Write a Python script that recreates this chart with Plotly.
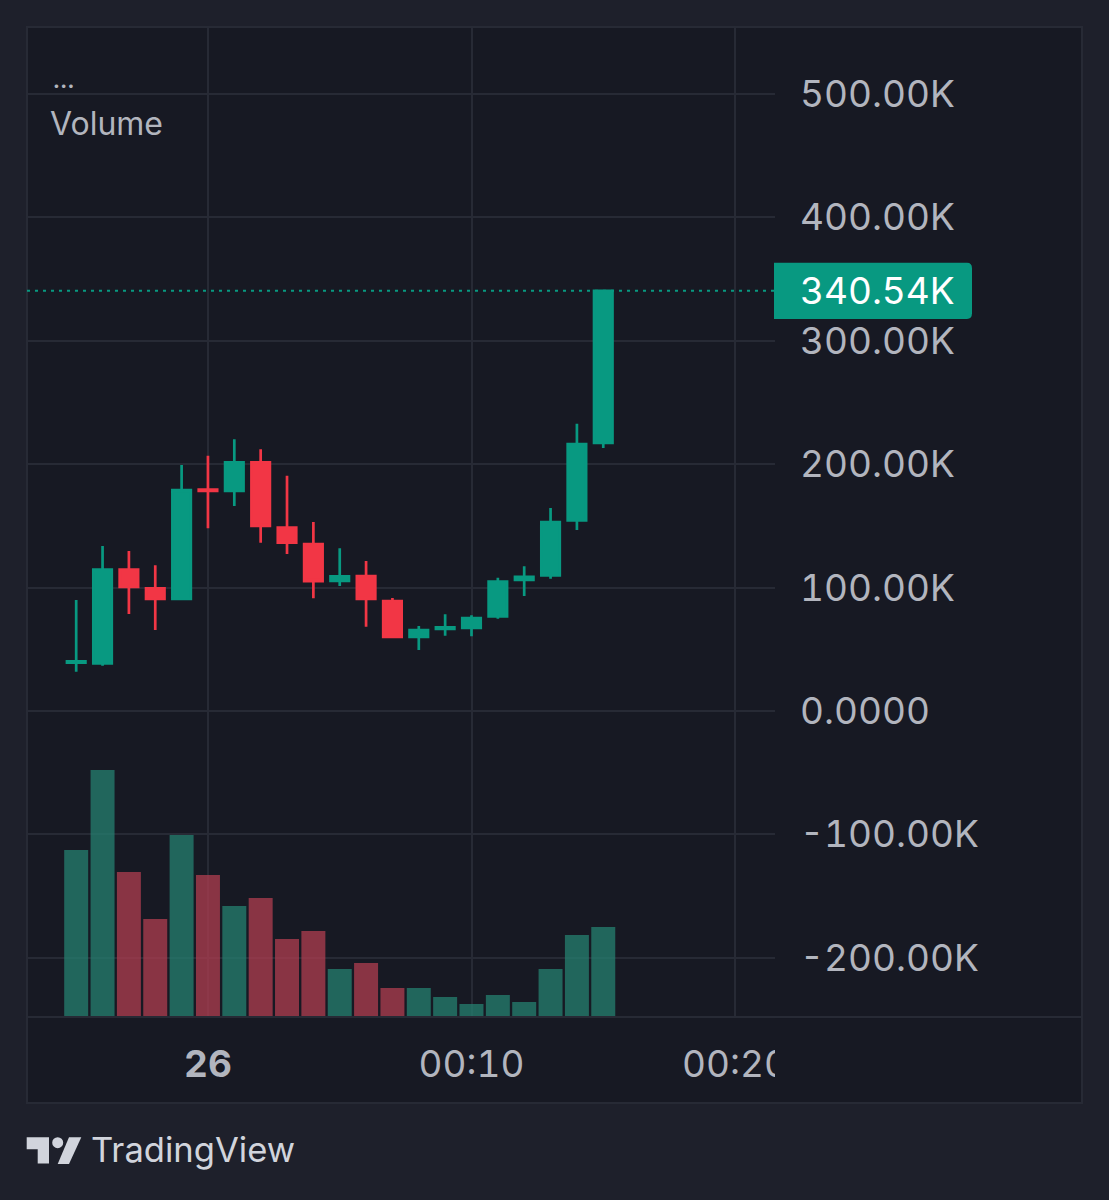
import plotly.graph_objects as go

# minute candles around midnight
times = ["2024-01-25 23:55", "2024-01-25 23:56", "2024-01-25 23:57", "2024-01-25 23:58", "2024-01-25 23:59",
         "2024-01-26 00:00", "2024-01-26 00:01", "2024-01-26 00:02", "2024-01-26 00:03", "2024-01-26 00:04",
         "2024-01-26 00:05", "2024-01-26 00:06", "2024-01-26 00:07", "2024-01-26 00:08", "2024-01-26 00:09",
         "2024-01-26 00:10", "2024-01-26 00:11", "2024-01-26 00:12", "2024-01-26 00:13", "2024-01-26 00:14",
         "2024-01-26 00:15"]

# values in thousands
opens = [39.2, 38.5, 114.6, 99.3, 90.8, 179.4, 178.4, 201.4, 148.7, 135.3, 105.5,
         109.4, 89.1, 60.1, 66.5, 67.4, 76.6, 106.2, 109.8, 154.4, 217.2]
highs = [90.0, 133.7, 129.7, 118.1, 199.4, 206.9, 220.2, 212.1, 190.7, 153.2, 131.8,
         121.6, 91.6, 68.9, 78.4, 77.6, 108.0, 117.3, 164.5, 232.8, 340.54]
lows = [31.8, 36.7, 78.6, 65.6, 89.7, 148.1, 166.1, 136.4, 127.2, 91.3, 101.3,
        68.3, 58.9, 49.4, 61.0, 60.5, 74.8, 93.2, 107.2, 146.7, 213.1]
closes = [40.2, 114.6, 100.5, 90.8, 179.1, 178.3, 201.4, 149.9, 136.4, 105.3, 109.2,
          90.9, 60.0, 65.5, 67.7, 75.2, 104.9, 108.6, 153.0, 216.2, 340.54]
volumes = [167, 247, 145, 98, 182, 142, 111, 119, 78, 86, 48,
           54, 29, 29, 20, 13, 22, 15, 48, 82, 90]

price_ticks = [-200, -100, 0, 100, 200, 300, 400, 500]
price_labels = ["-200.00K", "-100.00K", "0.0000", "100.00K", "200.00K", "300.00K", "400.00K", "500.00K"]
time_ticks = ["2024-01-26 00:00", "2024-01-26 00:10", "2024-01-26 00:20"]
time_labels = ["<b>26</b>", "00:10", "00:20"]
last_price = 340.54

OUTER = "#1e202b"
INNER = "#171923"
GRID = "#272a35"
TEXT = "#b2b5be"
UP = "#089981"
DOWN = "#f23645"
UP_VOL = "rgba(38,128,112,0.75)"
DOWN_VOL = "rgba(176,62,80,0.75)"
FONT = "Inter"

WIDTH, HEIGHT = 1109, 1200
LEFT, RIGHT, TOP, BOTTOM = 27, 775, 27, 1017


# helpers for things that sit outside the plot (frame, logo, labels)
def px(x):
    return (x - LEFT) / (RIGHT - LEFT)


def py(y):
    return (BOTTOM - y) / (BOTTOM - TOP)


fig = go.Figure()

fig.add_trace(go.Bar(x=times, y=volumes, yaxis="y2", hoverinfo="skip",
                     marker_color=[UP_VOL if c >= o else DOWN_VOL for o, c in zip(opens, closes)],
                     marker_line_width=0))
fig.add_trace(go.Candlestick(x=times, open=opens, high=highs, low=lows, close=closes,
                             whiskerwidth=0,
                             increasing=dict(line=dict(color=UP, width=2.7), fillcolor=UP),
                             decreasing=dict(line=dict(color=DOWN, width=2.7), fillcolor=DOWN)))

fig.update_layout(
    width=WIDTH, height=HEIGHT,
    margin=dict(l=LEFT, r=WIDTH - RIGHT, t=TOP, b=HEIGHT - BOTTOM, pad=0),
    paper_bgcolor=OUTER, plot_bgcolor=INNER,
    showlegend=False, boxgap=0.3, boxgroupgap=0, bargap=0.09,
    font=dict(family=FONT, color=TEXT, size=36),
    xaxis=dict(type="date", range=["2024-01-25 23:53:08", "2024-01-26 00:21:31"],
               rangeslider_visible=False, tickvals=time_ticks, ticktext=time_labels,
               showgrid=True, gridcolor=GRID, gridwidth=2, zeroline=False, showline=False,
               ticks="", ticklabelstandoff=22, tickfont=dict(size=37, color=TEXT, family=FONT)),
    yaxis=dict(side="right", range=[-248, 554.3], tickvals=price_ticks, ticktext=price_labels,
               showgrid=True, gridcolor=GRID, gridwidth=2, zeroline=False, showline=False,
               ticks="", ticklabelstandoff=24, tickfont=dict(size=37, color=TEXT, family=FONT)),
    yaxis2=dict(overlaying="y", range=[0, 990], visible=False),
)

# chart panel and its frame
fig.add_shape(type="rect", xref="paper", yref="paper", layer="below",
              x0=px(27), x1=px(1082), y0=py(1103), y1=py(27),
              fillcolor=INNER, line=dict(color=GRID, width=2))
# bottom axis line
fig.add_shape(type="line", xref="paper", yref="paper", x0=px(27), x1=px(1082), y0=py(1017), y1=py(1017),
              line=dict(color=GRID, width=2))
# the time scale stops at the price scale, so 00:20 gets cut off
fig.add_shape(type="rect", xref="paper", yref="paper", x0=px(775), x1=px(1081), y0=py(1102), y1=py(1018.5),
              fillcolor=INNER, line_width=0)

# last price line and its tag
fig.add_shape(type="line", xref="paper", yref="y", x0=0, x1=1, y0=last_price, y1=last_price,
              line=dict(color=UP, width=2.2, dash="3px,5px"))
t0, t1, l, r, rad = last_price + 22.8, last_price - 22.8, px(774), px(972), px(32) - px(27)
rad_y = 4.5
fig.add_shape(type="path", xref="paper", yref="y", fillcolor=UP, line_width=0,
              path=f"M {l},{t0} L {r - rad},{t0} Q {r},{t0} {r},{t0 - rad_y} "
                   f"L {r},{t1 + rad_y} Q {r},{t1} {r - rad},{t1} L {l},{t1} Z")
fig.add_annotation(xref="paper", yref="y", x=px(800), y=last_price, text="340.54K", showarrow=False,
                   xanchor="left", yanchor="middle", font=dict(size=37, color="#ffffff", family=FONT))

# legend text in the corner
fig.add_annotation(xref="paper", yref="paper", x=px(48), y=py(124), text="Volume", showarrow=False,
                   xanchor="left", yanchor="middle", font=dict(size=32, color=TEXT, family=FONT))
fig.add_annotation(xref="paper", yref="paper", x=px(50), y=py(78), text="...", showarrow=False,
                   xanchor="left", yanchor="middle", font=dict(size=27, color=TEXT, family=FONT))

# footer logo
LOGO = "#d1d4dc"
fig.add_annotation(xref="paper", yref="paper", x=px(89), y=py(1149), text="TradingView", showarrow=False,
                   xanchor="left", yanchor="middle", font=dict(size=34.6, color=LOGO, family=FONT))
t_pts = [(26.7, 1137.3), (49, 1137.3), (49, 1163.5), (37.7, 1163.5), (37.7, 1149.3), (26.7, 1149.3)]
slash_pts = [(69, 1137.3), (81.3, 1137.3), (69, 1164), (57.7, 1164)]
for pts in (t_pts, slash_pts):
    path = "M " + " L ".join(f"{px(x)},{py(y)}" for x, y in pts) + " Z"
    fig.add_shape(type="path", xref="paper", yref="paper", path=path, fillcolor=LOGO, line_width=0)
fig.add_shape(type="circle", xref="paper", yref="paper", x0=px(52.2), x1=px(63.2), y0=py(1148.2), y1=py(1137.2),
              fillcolor=LOGO, line_width=0)

# tabular digits like the original labels
fig.write_html("out.html", config=dict(displayModeBar=False),
               post_script="document.body.style.margin='0';document.body.style.overflow='hidden';"
                           f"document.body.style.background='{OUTER}';"
                           "var s=document.createElement('style');"
                           "s.textContent='svg text{font-feature-settings:\"tnum\" 1}';"
                           "document.head.appendChild(s);")
